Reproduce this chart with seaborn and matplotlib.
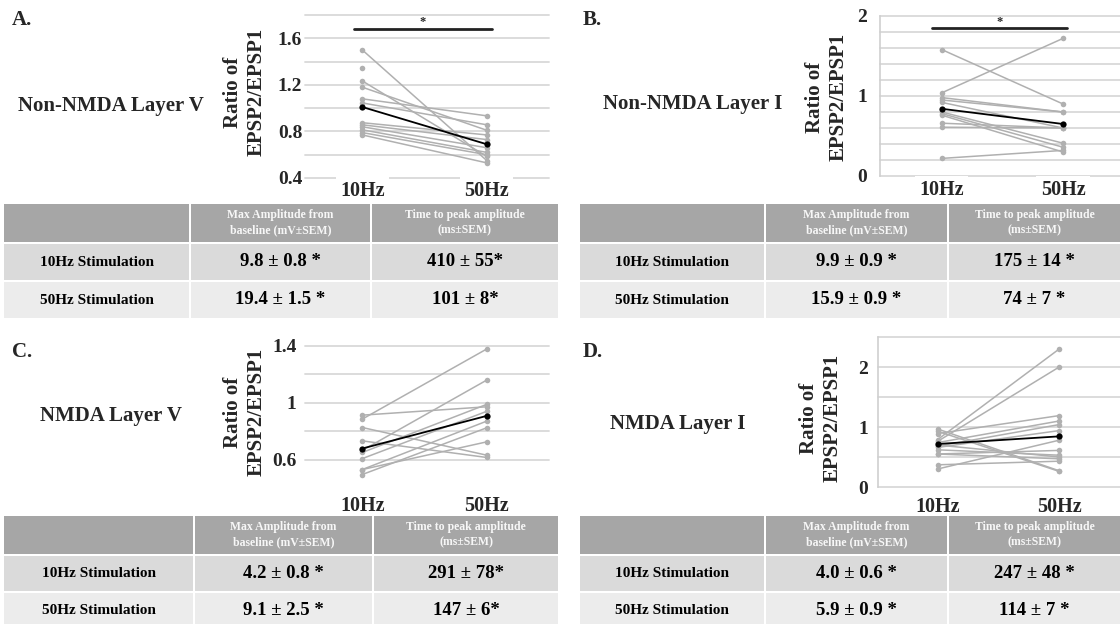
import numpy as np
import pandas as pd
import matplotlib.pyplot as plt
import seaborn as sns
from matplotlib.patches import Rectangle

W, H = 1120, 624

freqs = ['10Hz', '50Hz']

# A. Non-NMDA Layer V (ratio EPSP2/EPSP1 per cell)
a_10 = [1.50, 1.345, 1.234, 1.18, 1.08, 1.045, 0.875, 0.857, 0.84, 0.814, 0.79, 0.77]
a_50 = [0.55, np.nan, 0.585, 0.81, 0.934, 0.857, 0.77, 0.73, 0.66, 0.62, 0.60, 0.53]
a_mean = [1.01, 0.69]

# B. Non-NMDA Layer I
b_10 = [1.58, 1.04, 0.98, 0.95, 0.92, 0.80, 0.78, 0.76, 0.66, 0.61, 0.22]
b_50 = [0.90, 1.72, 0.80, 0.80, 0.60, 0.41, 0.36, 0.30, 0.60, 0.60, 0.32]
b_mean = [0.84, 0.65]

# C. NMDA Layer V
c_10 = [0.913, 0.885, 0.826, 0.732, 0.665, 0.65, 0.607, 0.53, 0.53, 0.495]
c_50 = [0.972, 1.379, 0.631, 0.615, 1.16, 0.989, 0.94, 0.871, 0.725, 0.824]
c_mean = [0.678, 0.908]

# D. NMDA Layer I
d_10 = [0.967, 0.93, 0.89, 0.79, 0.76, 0.74, 0.70, 0.68, 0.66, 0.62, 0.55, 0.55, 0.37, 0.30]
d_50 = [0.27, 0.26, 1.19, 2.30, 2.00, 1.10, 0.50, 1.04, 0.94, 0.53, 0.47, 0.61, 0.43, 0.78]
d_mean = [0.717, 0.844]

# tables
col_heads = ['', 'Max Amplitude from\nbaseline (mV\u00b1SEM)', 'Time to peak amplitude\n(ms\u00b1SEM)']
row_names = ['10Hz Stimulation', '50Hz Stimulation']
a_amp = ['9.8 \u00b1 0.8 *', '19.4 \u00b1 1.5 *']
a_time = ['410 \u00b1 55*', '101 \u00b1 8*']
b_amp = ['9.9 \u00b1 0.9 *', '15.9 \u00b1 0.9 *']
b_time = ['175 \u00b1 14 *', '74 \u00b1 7 *']
c_amp = ['4.2 \u00b1 0.8 *', '9.1 \u00b1 2.5 *']
c_time = ['291 \u00b1 78*', '147 \u00b1 6*']
d_amp = ['4.0 \u00b1 0.6 *', '5.9 \u00b1 0.9 *']
d_time = ['247 \u00b1 48 *', '114 \u00b1 7 *']

sns.set_style('white')
plt.rcParams['font.family'] = ['Liberation Serif', 'DejaVu Serif']
plt.rcParams['font.weight'] = 'bold'

GRID = '#d9d9d9'
GRAY = '#b0b0b0'


def px_axes(fig, left, top, right, bottom):
    return fig.add_axes([left / W, 1 - bottom / H, (right - left) / W, (bottom - top) / H])


def draw_panel(fig, box, x10, x50, mean, ylim, xlim, grid, ticks, ticklabels,
               ypad, xpad, spine=False, sig=None):
    ax = px_axes(fig, *box)
    n = len(x10)
    df = pd.DataFrame({'cell': list(range(n)) * 2,
                       'freq': [freqs[0]] * n + [freqs[1]] * n,
                       'ratio': list(x10) + list(x50)})
    sns.lineplot(data=df, x='freq', y='ratio', units='cell', estimator=None,
                 color=GRAY, lw=1.1, marker='o', markersize=4,
                 markeredgewidth=0, ax=ax, zorder=3)
    mdf = pd.DataFrame({'freq': freqs, 'ratio': mean})
    sns.lineplot(data=mdf, x='freq', y='ratio', color='black', lw=1.3,
                 marker='o', markersize=4.5, markeredgewidth=0, ax=ax, zorder=4)
    for g in grid:
        ax.axhline(g, color=GRID, lw=1.3, zorder=0.5, clip_on=False)
    ax.set_xlim(*xlim)
    ax.set_ylim(*ylim)
    for s in ax.spines.values():
        s.set_visible(False)
    if spine:
        ax.spines['left'].set_visible(True)
        ax.spines['left'].set_color('#cfcfcf')
        ax.spines['left'].set_linewidth(1.2)
    ax.set_xticks([0, 1])
    ax.set_xticklabels(freqs, fontsize=14.5, fontweight='bold',
                       bbox=dict(facecolor='white', edgecolor='none', pad=3))
    ax.set_yticks(ticks)
    ax.set_yticklabels(ticklabels, fontsize=14, fontweight='bold')
    ax.tick_params(axis='y', length=0, pad=ypad)
    ax.tick_params(axis='x', length=0, pad=xpad)
    ax.set_xlabel('')
    ax.set_ylabel('')
    ax.set_facecolor('none')
    if sig is not None:
        x0, x1, yb, ys = sig
        ax.plot([x0, x1], [yb, yb], color='#222222', lw=2, clip_on=False)
        ax.text((x0 + x1) / 2, ys, '*', ha='center', va='center', fontsize=9)
    return ax


def draw_table(fig, xs, ys, amp, time):
    ax = px_axes(fig, xs[0], ys[0], xs[-1], ys[-1])
    ax.set_xlim(xs[0], xs[-1])
    ax.set_ylim(ys[-1], ys[0])
    ax.axis('off')
    colors = ['#a6a6a6', '#dadada', '#ececec']
    cells = [col_heads,
             [row_names[0], amp[0], time[0]],
             [row_names[1], amp[1], time[1]]]
    for r in range(3):
        top, bot = ys[2 * r], ys[2 * r + 1]
        for c in range(3):
            l, rr = xs[2 * c], xs[2 * c + 1]
            ax.add_patch(Rectangle((l, top), rr - l, bot - top, color=colors[r], lw=0))
            txt = cells[r][c]
            if r == 0:
                kw = dict(fontsize=8.5, color='#f7f7f7', linespacing=1.35)
            elif c == 0:
                kw = dict(fontsize=11, color='black')
            else:
                kw = dict(fontsize=13.5, color='black')
            ax.text((l + rr) / 2, (top + bot) / 2, txt, ha='center', va='center',
                    fontweight='bold', **kw)


def ylabel(fig, x, y):
    fig.text(x / W, 1 - y / H, 'Ratio of\nEPSP2/EPSP1', rotation=90, ha='center',
             va='center', fontsize=15, fontweight='bold', linespacing=1.2)


fig = plt.figure(figsize=(11.2, 6.24), dpi=100)

# panel A
draw_panel(fig, (305, 15, 549, 178), a_10, a_50, a_mean, (0.4, 1.8), (-0.46, 1.5),
           np.arange(0.4, 1.81, 0.2), [0.4, 0.8, 1.2, 1.6], ['0.4', '0.8', '1.2', '1.6'],
           ypad=2, xpad=2, sig=[-0.07, 1.04, 1.68, 1.74])
# panel B
draw_panel(fig, (880, 16, 1120, 176), b_10, b_50, b_mean, (0, 2), (-0.51, 1.47),
           np.arange(0, 2.01, 0.2), [0, 1, 2], ['0', '1', '2'],
           ypad=9, xpad=3, spine=True, sig=[-0.08, 1.03, 1.85, 1.93])
# panel C
draw_panel(fig, (305, 346, 549, 488), c_10, c_50, c_mean, (0.4, 1.4), (-0.46, 1.5),
           np.arange(0.6, 1.41, 0.2), [0.6, 1.0, 1.4], ['0.6', '1', '1.4'],
           ypad=6, xpad=6)
# panel D
draw_panel(fig, (878, 337, 1120, 487), d_10, d_50, d_mean, (0, 2.5), (-0.49, 1.5),
           np.arange(0, 2.51, 0.5), [0, 1, 2], ['0', '1', '2'],
           ypad=7, xpad=7, spine=True)

ylabel(fig, 245, 92)
ylabel(fig, 827, 97)
ylabel(fig, 245, 412)
ylabel(fig, 821, 418)

for lab, x, y in [('A.', 12, 20), ('B.', 583, 20), ('C.', 12, 352), ('D.', 583, 352)]:
    fig.text(x / W, 1 - y / H, lab, fontsize=15, fontweight='bold', va='center')

for title, x, y in [('Non-NMDA Layer V', 18, 106), ('Non-NMDA Layer I', 603, 104),
                    ('NMDA Layer V', 40, 416), ('NMDA Layer I', 610, 424)]:
    fig.text(x / W, 1 - y / H, title, fontsize=15, fontweight='bold', va='center')

draw_table(fig, [4, 189, 191, 370, 372, 558], [204, 242, 244, 280, 282, 318], a_amp, a_time)
draw_table(fig, [580, 764, 766, 947, 949, 1120], [204, 242, 244, 280, 282, 318], b_amp, b_time)
draw_table(fig, [4, 193, 195, 372, 374, 558], [516, 554, 556, 591, 593, 628], c_amp, c_time)
draw_table(fig, [580, 764, 766, 947, 949, 1120], [516, 554, 556, 591, 593, 628], d_amp, d_time)

fig.savefig('out.png', dpi=100)
